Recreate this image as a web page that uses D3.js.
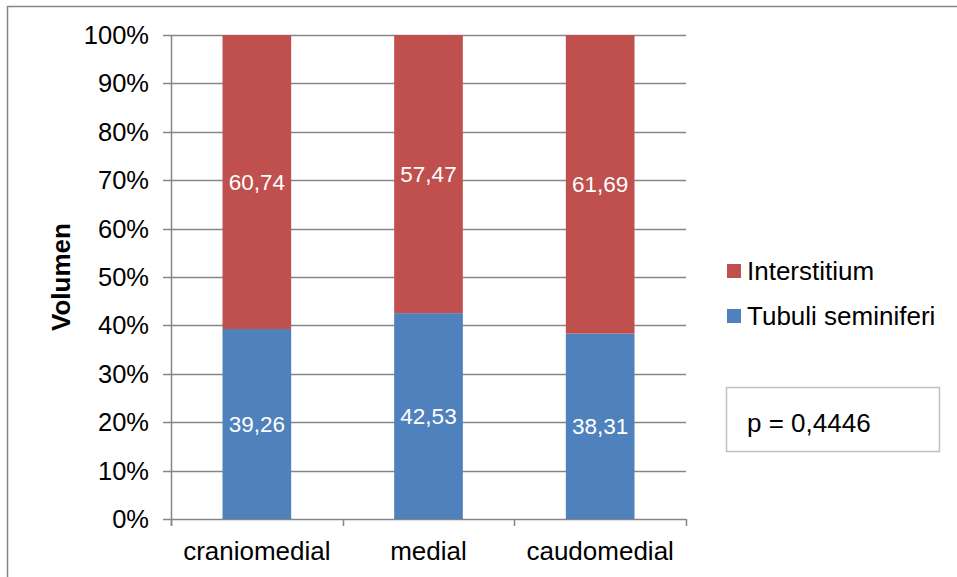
<!DOCTYPE html>
<html><head><meta charset="utf-8">
<script src="https://cdn.jsdelivr.net/npm/d3@7"></script>
<style>body{margin:0;background:#fff}svg{display:block}</style>
</head><body>
<svg id="c" width="957" height="577"></svg>
<script>
const categories = ["craniomedial", "medial", "caudomedial"];
const tubuli = [39.26, 42.53, 38.31];
const interstitium = [60.74, 57.47, 61.69];
const seriesNames = ["Tubuli seminiferi", "Interstitium"];
const seriesColors = ["#4F81BD", "#C0504D"];
const yTicks = [0, 10, 20, 30, 40, 50, 60, 70, 80, 90, 100];
const pText = "p = 0,4446";
const yTitle = "Volumen";

const svg = d3.select("#c");
const font = "Liberation Sans, Arial, sans-serif";
const L = 171, R = 686, T = 35, B = 519;

// outer frame
svg.append("path").attr("d", "M7.5,577 V6.5 H957").attr("fill","none").attr("stroke","#868686").attr("stroke-width",1.5);

const x = d3.scaleBand().domain(categories).range([L, R]).paddingInner(0.6).paddingOuter(0.3);
const y = d3.scaleLinear().domain([0, 100]).range([B, T]);

// gridlines
svg.append("g").selectAll("line").data(yTicks).join("line")
  .attr("x1", L - 8).attr("x2", R).attr("y1", d => Math.round(y(d)) + 0.5).attr("y2", d => Math.round(y(d)) + 0.5)
  .attr("stroke", "#868686").attr("stroke-width", 1.5);

// y axis line
svg.append("line").attr("x1", L + 0.5).attr("x2", L + 0.5).attr("y1", T).attr("y2", B + 7).attr("stroke","#868686").attr("stroke-width",1.5);
// x category ticks
const edges = [L, L + x.step(), L + 2 * x.step(), R];
svg.append("g").selectAll("line").data(edges).join("line")
  .attr("x1", d => Math.round(d) + 0.5).attr("x2", d => Math.round(d) + 0.5).attr("y1", B).attr("y2", B + 7)
  .attr("stroke","#868686").attr("stroke-width",1.5);

// y tick labels
svg.append("g").selectAll("text").data(yTicks).join("text")
  .attr("x", 149).attr("y", d => y(d) + 9).attr("text-anchor","end")
  .attr("font-family", font).attr("font-size", 25.5).attr("fill","#000").text(d => d + "%");

// stacked bars
const stackData = categories.map((c, i) => ({cat: c, t: tubuli[i], s: interstitium[i]}));
const stack = d3.stack().keys(["t", "s"])(stackData);
stack.forEach((layer, li) => {
  svg.append("g").selectAll("rect").data(layer).join("rect")
    .attr("x", d => x(d.data.cat)).attr("width", x.bandwidth())
    .attr("y", d => y(d[1])).attr("height", d => y(d[0]) - y(d[1]))
    .attr("fill", seriesColors[li]);
  svg.append("g").selectAll("text").data(layer).join("text")
    .attr("x", d => x(d.data.cat) + x.bandwidth() / 2)
    .attr("y", d => (y(d[0]) + y(d[1])) / 2 + 8)
    .attr("text-anchor","middle").attr("font-family", font).attr("font-size", 22.5).attr("fill","#fff")
    .text(d => (d[1] - d[0]).toFixed(2).replace(".", ","));
});

// x labels
svg.append("g").selectAll("text").data(categories).join("text")
  .attr("x", d => x(d) + x.bandwidth() / 2).attr("y", 560).attr("text-anchor","middle")
  .attr("font-family", font).attr("font-size", 26).attr("fill","#000").text(d => d);

// y title
svg.append("text").attr("transform", "translate(70,277) rotate(-90)").attr("text-anchor","middle")
  .attr("font-family", font).attr("font-size", 26).attr("font-weight","bold").attr("fill","#000").text(yTitle);

// legend (Interstitium first)
const legendOrder = [1, 0];
legendOrder.forEach((si, k) => {
  const ly = 271 + k * 45;
  svg.append("rect").attr("x", 727).attr("y", ly - 7).attr("width", 14).attr("height", 14).attr("fill", seriesColors[si]);
  svg.append("text").attr("x", 747).attr("y", ly + 8.5).attr("font-family", font).attr("font-size", 26).attr("fill","#000").text(seriesNames[si]);
});

// p box
svg.append("rect").attr("x", 726.5).attr("y", 387.5).attr("width", 213).attr("height", 64).attr("fill","#fff").attr("stroke","#bfbfbf").attr("stroke-width",1.5);
svg.append("text").attr("x", 747).attr("y", 432).attr("font-family", font).attr("font-size", 26).attr("fill","#000").text(pText);
</script>
</body></html>
